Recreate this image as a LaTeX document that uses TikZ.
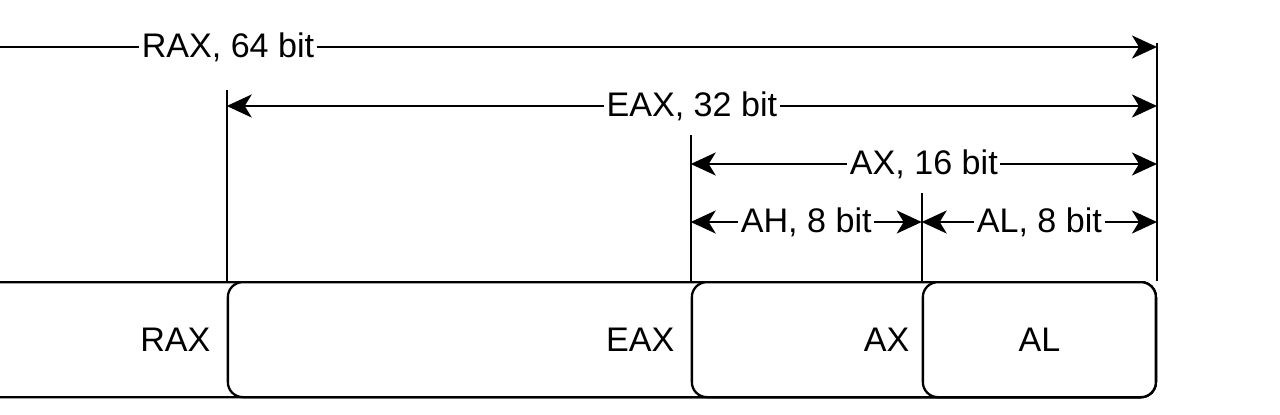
\documentclass[tikz,border=0pt]{standalone}
\usepackage{fontspec}
\setmainfont{Liberation Sans}
\usepackage{tikz}
\usetikzlibrary{positioning,arrows.meta,calc}

\begin{document}
\begin{tikzpicture}[
    regbox/.style={rectangle, rounded corners=0.3cm, draw=black, fill=white,
                   line width=1.3pt, minimum height=2.3cm, anchor=north east, inner sep=0pt},
    regname/.style={font=\fontsize{19.4}{23}\selectfont, anchor=east, inner sep=0pt},
    dimarrow/.style={{Stealth[length=0.5cm, width=0.46cm, inset=0.14cm]}-{Stealth[length=0.5cm, width=0.46cm, inset=0.14cm]},
                     line width=1.3pt},
    bitlabel/.style={font=\fontsize{19.4}{23}\selectfont, midway, fill=white, inner sep=1.5pt},
    tick/.style={line width=1.3pt}
]
\useasboundingbox (0,0) rectangle (25.6,8.28);
\clip (0,0) rectangle (25.6,8.28);

% Right edge shared by all registers
\coordinate (right) at (23.14,2.66);

% Nested register boxes
\node[regbox, minimum width=37.16cm] (rax) at (right) {};
\node[regbox, minimum width=18.56cm] (eax) at (right) {};
\node[regbox, minimum width=9.28cm] (ax) at (right) {};
\node[regbox, minimum width=4.66cm] (al) at (right) {};

% Register names
\node[regname, left=0.32cm of eax.west] (raxname) {RAX};
\node[regname, left=0.32cm of ax.west] (eaxname) {EAX};
\node[regname, left=0.24cm of al.west] (axname) {AX};
\node[regname, anchor=center] (alname) at (al.center) {AL};

% Boundary ticks
\draw[tick] (al.north east) -- ++(0,4.76) coordinate (tickR);
\draw[tick] (eax.north west) -- ++(0,3.82) coordinate (tickE);
\draw[tick] (ax.north west) -- ++(0,2.92) coordinate (tickA);
\draw[tick] (al.north west) -- ++(0,1.76) coordinate (tickL);

% Arrow rows
\coordinate (raxL) at (-14.02,7.34);
\coordinate (eaxL) at ($(tickE)+(0,-0.32)$);
\coordinate (axL) at ($(tickA)+(0,-0.58)$);
\coordinate (ahL) at ($(tickA)+(0,-1.74)$);
\coordinate (alL) at (ahL -| tickL);

% Width arrows
\draw[dimarrow] (raxL) -- node[bitlabel] {RAX, 64 bit} (raxL -| tickR);
\draw[dimarrow] (eaxL) -- node[bitlabel] {EAX, 32 bit} (eaxL -| tickR);
\draw[dimarrow] (axL) -- node[bitlabel] {AX, 16 bit} (axL -| tickR);
\draw[dimarrow] (ahL) -- node[bitlabel] {AH, 8 bit} (alL);
\draw[dimarrow] (alL) -- node[bitlabel] {AL, 8 bit} (alL -| tickR);

\end{tikzpicture}
\end{document}
